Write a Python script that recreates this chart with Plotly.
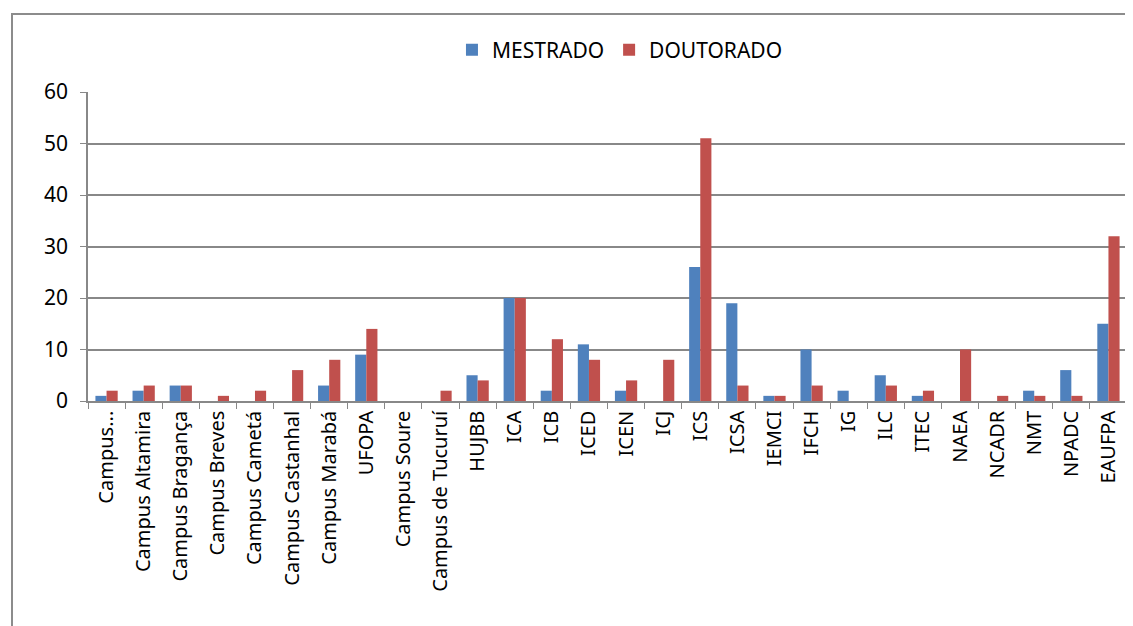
import plotly.graph_objects as go

categories = [
    "Campus...", "Campus Altamira", "Campus Bragança", "Campus Breves",
    "Campus Cametá", "Campus Castanhal", "Campus Marabá", "UFOPA",
    "Campus Soure", "Campus de Tucuruí", "HUJBB", "ICA", "ICB", "ICED",
    "ICEN", "ICJ", "ICS", "ICSA", "IEMCI", "IFCH", "IG", "ILC", "ITEC",
    "NAEA", "NCADR", "NMT", "NPADC", "EAUFPA",
]
mestrado = [1, 2, 3, 0, 0, 0, 3, 9, 0, 0, 5, 20, 2, 11, 2, 0, 26, 19, 1, 10, 2, 5, 1, 0, 0, 2, 6, 15]
doutorado = [2, 3, 3, 1, 2, 6, 8, 14, 0, 2, 4, 20, 12, 8, 4, 8, 51, 3, 1, 3, 0, 3, 2, 10, 1, 1, 1, 32]
y_ticks = [0, 10, 20, 30, 40, 50, 60]

FONT = "Noto Sans"

fig = go.Figure()
fig.add_trace(go.Bar(
    x=categories, y=mestrado, name="MESTRADO",
    marker=dict(color="#4F81BD", line=dict(width=0)),
))
fig.add_trace(go.Bar(
    x=categories, y=doutorado, name="DOUTORADO",
    marker=dict(color="#C0504D", line=dict(width=0)),
))

# the page body adds an 8px margin, so the figure is sized 8px smaller
fig.update_layout(
    width=1125, height=618,
    margin=dict(l=80, r=6, t=84, b=225, autoexpand=False),
    paper_bgcolor="white", plot_bgcolor="white",
    barmode="group", bargap=0.4, bargroupgap=0,
    font=dict(family=FONT, color="black"),
    showlegend=True,
    legend=dict(
        orientation="h", x=0.512, xanchor="center", y=1.136, yanchor="middle",
        font=dict(size=21, family=FONT), traceorder="normal",
    ),
)
fig.update_xaxes(
    type="category", tickangle=-90, tickfont=dict(size=20, family=FONT),
    showline=True, linecolor="#888888", linewidth=1.5,
    ticks="outside", tickson="boundaries", ticklen=6, tickcolor="#888888",
    showgrid=False, automargin=False,
)
fig.update_yaxes(
    range=[0, 60], tickvals=y_ticks, tickfont=dict(size=21, family=FONT),
    showline=True, linecolor="#888888", linewidth=1.5,
    ticks="outside", ticklen=6, tickcolor="#888888",
    showgrid=True, gridcolor="#888888", gridwidth=1.5, zeroline=False,
    ticklabelstandoff=8, automargin=False,
)

# outer chart frame (cropped at right and bottom, as in the source image)
fig.add_shape(
    type="rect", xref="paper", yref="paper",
    x0=(4 - 80) / 1039, x1=1.2, y0=-1.0, y1=(393 - 6) / 309,
    line=dict(color="#8C8C8C", width=2), fillcolor="rgba(0,0,0,0)", layer="below",
)

fig.write_html("out.html")
